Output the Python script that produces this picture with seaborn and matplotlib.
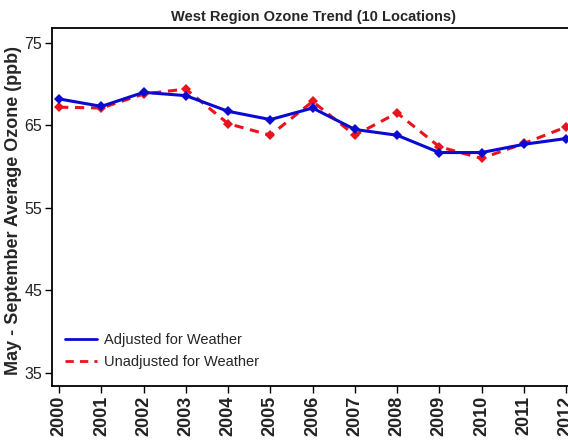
"""West region ozone trend, adjusted vs unadjusted for weather."""

import matplotlib

matplotlib.use("Agg")

import matplotlib.pyplot as plt
import pandas as pd
import seaborn as sns

YEARS = list(range(2000, 2013))
ADJUSTED = [68.2, 67.3, 69.0, 68.6, 66.7, 65.7, 67.1, 64.5, 63.8, 61.7, 61.7, 62.7, 63.4]
UNADJUSTED = [67.2, 67.1, 68.8, 69.4, 65.2, 63.8, 67.9, 63.8, 66.5, 62.4, 61.0, 62.8, 64.8]
SERIES = ["Adjusted for Weather", "Unadjusted for Weather"]
Y_TICKS = [35, 45, 55, 65, 75]

plot_data = pd.concat(
    [
        pd.DataFrame({"year": YEARS, "ozone": ADJUSTED, "series": SERIES[0]}),
        pd.DataFrame({"year": YEARS, "ozone": UNADJUSTED, "series": SERIES[1]}),
    ]
)

sns.set_theme(style="white")
plt.rcParams["font.family"] = ["Liberation Sans", "DejaVu Sans"]

fig = plt.figure(figsize=(5.68, 4.48), dpi=100)
axis = fig.add_axes([0.0915, 0.1384, 0.92, 0.7991])

# draw unadjusted first so the blue line sits on top
for name, color, dashes in [(SERIES[1], "#e8141c", (3, 2.2)), (SERIES[0], "#0a0ad2", None)]:
    subset = plot_data[plot_data["series"] == name]
    sns.lineplot(
        data=subset, x="year", y="ozone", ax=axis, color=color, linewidth=2.2,
        marker="D", markersize=5, markeredgewidth=0, legend=False,
        linestyle="--" if dashes else "-", dashes=bool(dashes),
    )
    if dashes:
        axis.lines[-1].set_dashes(dashes)

axis.set_xlim(1999.83, 2012.2)
axis.set_ylim(33.4, 76.8)
axis.set_xticks(YEARS)
axis.set_xticklabels([str(y) for y in YEARS], rotation=90, fontsize=13,
                     fontweight="bold", color="#222222")
axis.set_yticks(Y_TICKS)
axis.set_yticklabels([str(v) for v in Y_TICKS], fontsize=11.5, color="#222222")
axis.tick_params(axis="both", length=5, width=1, color="black", direction="out",
                 bottom=True, left=True, pad=2)
axis.set_xlabel("")
axis.set_ylabel("May - September Average Ozone (ppb)", fontsize=13, fontweight="bold")
axis.yaxis.set_label_coords(-0.057, 0.49)
axis.set_title("West Region Ozone Trend (10 Locations)", fontsize=10.5,
               fontweight="bold", pad=5)
for side in ["left", "top", "bottom"]:
    axis.spines[side].set_color("black")
    axis.spines[side].set_linewidth(1.3)
axis.spines["right"].set_visible(False)

handles = [
    plt.Line2D([], [], color="#0a0ad2", linewidth=2),
    plt.Line2D([], [], color="#e8141c", linewidth=2, linestyle=(0, (3, 2.2))),
]
axis.legend(handles, SERIES, loc="lower left", frameon=False, fontsize=10.5,
            handlelength=2.2, handletextpad=0.5, labelspacing=0.55,
            bbox_to_anchor=(0.0, 0.01))

fig.savefig("out.png", dpi=100)
plt.close(fig)
